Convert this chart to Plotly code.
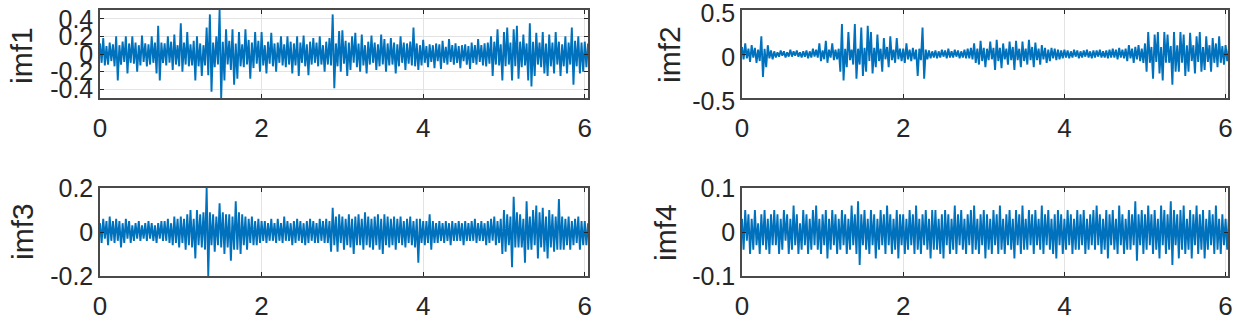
import plotly.graph_objects as go

# ---------------- data (sample step 0.02 s) -------------
t_step = 0.02

imf1 = [
    .12, -.1, .18, -.13, .09, -.12, .13, -.08, .11, -.14, .2, -.3, .1, -.12, .14, -.09, .2, -.22, .12, -.1,
    .2, -.11, .13, -.2, .1, -.13, .21, -.09, .12, -.14, .11, -.12, .2, -.1, .13, -.22, .32, -.3, .13, -.1,
    .12, -.13, .2, -.1, .14, -.18, .22, -.12, .1, -.14, .35, -.2, .13, -.12, .25, -.14, .11, -.13, .15, -.3,
    .2, -.14, .12, -.25, .1, -.13, .3, -.24, .45, -.43, .13, -.15, .2, -.12, .5, -.5, .14, -.3, .28, -.12,
    .15, -.18, .28, -.35, .12, -.28, .25, -.14, .11, -.15, .28, -.12, .16, -.28, .13, -.16, .25, -.11, .15, -.2,
    .25, -.13, .1, -.22, .14, -.11, .24, -.14, .12, -.2, .13, -.1, .2, -.13, .11, -.15, .2, -.12, .14, -.22,
    .12, -.13, .2, -.25, .13, -.1, .21, -.14, .11, -.24, .14, -.12, .18, -.1, .13, -.14, .2, -.12, .1, -.2,
    .14, -.12, .18, -.13, .45, -.39, .12, -.14, .26, -.2, .27, -.11, .15, -.25, .13, -.18, .2, -.1, .24, -.15,
    .12, -.2, .22, -.13, .1, -.22, .14, -.12, .21, -.1, .13, -.18, .11, -.14, .22, -.12, .17, -.2, .12, -.13,
    .18, -.12, .13, -.22, .11, -.14, .2, -.1, .13, -.18, .12, -.11, .14, -.13, .3, -.14, .12, -.18, .1, -.13,
    .16, -.1, .09, -.15, .11, -.09, .1, -.16, .12, -.08, .11, -.17, .15, -.1, .08, -.12, .17, -.09, .1, -.12,
    .12, -.1, .09, -.16, .1, -.08, .11, -.12, .09, -.17, .13, -.1, .1, -.12, .17, -.09, .1, -.13, .12, -.14,
    .13, -.11, .2, -.25, .14, -.12, .28, -.13, .11, -.3, .25, -.14, .3, -.12, .13, -.3, .28, -.14, .32, -.28,
    .14, -.15, .22, -.13, .12, -.3, .35, -.37, .14, -.25, .24, -.12, .13, -.15, .25, -.22, .12, -.25, .22, -.14,
    .13, -.22, .25, -.12, .14, -.25, .11, -.14, .2, -.22, .13, -.12, .3, -.35, .15, -.14, .2, -.22, .13, -.2,
    .14, -.15, .12,
]

imf2 = [
    .08, -.06, .12, -.05, .06, -.09, .1, -.04, .07, -.1, .05, -.08, .2, -.26, .06, -.15, .1, -.05, .04, -.06,
    .03, -.04, .02, -.03, .04, -.02, .03, -.04, .02, -.03, .05, -.03, .03, -.02, .04, -.03, .02, -.04, .03, -.03,
    .04, -.05, .03, -.04, .06, -.03, .05, -.04, .12, -.08, .04, -.06, .15, -.1, .05, -.04, .12, -.07, .05, -.06,
    .06, -.2, .34, -.3, .06, -.15, .25, -.07, .05, -.12, .34, -.28, .06, -.12, .3, -.25, .07, -.2, .32, -.08,
    .25, -.22, .07, -.15, .22, -.08, .06, -.2, .18, -.06, .08, -.15, .2, -.07, .05, -.1, .18, -.06, .06, -.08,
    .06, -.1, .12, -.06, .05, -.08, .07, -.06, .05, -.25, .06, -.07, .3, -.28, .05, -.06, .04, -.05, .03, -.04,
    .04, -.05, .03, -.04, .05, -.03, .04, -.05, .06, -.04, .03, -.04, .05, -.03, .04, -.05, .03, -.04, .05, -.05,
    .06, -.05, .07, -.06, .12, -.1, .06, -.12, .15, -.08, .07, -.15, .06, -.07, .14, -.06, .07, -.18, .16, -.08,
    .07, -.16, .12, -.06, .06, -.12, .14, -.07, .08, -.18, .15, -.07, .06, -.15, .14, -.08, .06, -.12, .16, -.07,
    .08, -.15, .13, -.07, .06, -.12, .1, -.06, .07, -.1, .05, -.08, .07, -.05, .06, -.07, .05, -.06, .04, -.05,
    .05, -.04, .04, -.05, .03, -.04, .05, -.03, .04, -.05, .03, -.04, .04, -.03, .05, -.04, .03, -.05, .04, -.04,
    .04, -.03, .05, -.04, .03, -.04, .04, -.05, .05, -.04, .06, -.04, .05, -.06, .07, -.04, .05, -.05, .06, -.08,
    .1, -.05, .06, -.1, .08, -.06, .1, -.08, .06, -.1, .12, -.2, .25, -.1, .08, -.28, .22, -.09, .25, -.22,
    .08, -.3, .25, -.1, .22, -.1, .09, -.35, .25, -.2, .1, -.2, .25, -.1, .22, -.25, .1, -.2, .24, -.08,
    .1, -.22, .2, -.09, .25, -.2, .08, -.18, .2, -.09, .1, -.2, .18, -.1, .12, -.15, .2, -.1, .09, -.12,
    .1, -.08, .06,
]

imf3 = [
    .04, -.05, .06, -.03, .05, -.06, .07, -.04, .05, -.05, .06, -.04, .05, -.07, .04, -.05, .06, -.03, .05, -.05,
    .03, -.04, .04, -.03, .05, -.04, .03, -.03, .04, -.04, .05, -.03, .04, -.04, .03, -.05, .04, -.03, .05, -.04,
    .05, -.04, .06, -.05, .04, -.06, .07, -.05, .06, -.07, .07, -.05, .06, -.08, .08, -.06, .1, -.07, .06, -.12,
    .1, -.06, .08, -.07, .09, -.08, .2, -.2, .09, -.06, .08, -.09, .07, -.06, .13, -.07, .09, -.1, .08, -.07,
    .08, -.13, .07, -.08, .14, -.08, .09, -.1, .08, -.06, .07, -.08, .06, -.05, .07, -.06, .05, -.06, .06, -.05,
    .05, -.04, .05, -.05, .04, -.04, .06, -.04, .04, -.05, .06, -.04, .04, -.05, .07, -.04, .05, -.04, .04, -.06,
    .05, -.05, .06, -.04, .05, -.05, .04, -.06, .05, -.05, .06, -.04, .05, -.05, .04, -.05, .06, -.04, .05, -.05,
    .06, -.05, .05, -.09, .11, -.06, .07, -.09, .08, -.05, .07, -.08, .06, -.06, .08, -.07, .06, -.1, .07, -.06,
    .08, -.06, .06, -.08, .09, -.06, .07, -.07, .06, -.08, .07, -.06, .08, -.08, .06, -.1, .08, -.06, .07, -.07,
    .06, -.06, .07, -.08, .06, -.05, .07, -.06, .05, -.07, .06, -.05, .07, -.06, .05, -.07, .06, -.14, .06, -.05,
    .05, -.06, .05, -.05, .08, -.08, .05, -.05, .04, -.05, .05, -.04, .04, -.05, .05, -.04, .04, -.06, .05, -.04,
    .04, -.04, .05, -.04, .04, -.06, .05, -.04, .04, -.04, .05, -.04, .06, -.05, .04, -.04, .05, -.04, .04, -.06,
    .05, -.05, .06, -.04, .07, -.06, .05, -.05, .06, -.1, .1, -.09, .08, -.06, .07, -.16, .16, -.07, .09, -.07,
    .08, -.07, .06, -.14, .14, -.08, .07, -.08, .1, -.06, .12, -.12, .09, -.07, .11, -.09, .07, -.12, .1, -.07,
    .08, -.09, .07, -.08, .15, -.08, .07, -.08, .06, -.06, .07, -.08, .05, -.06, .06, -.05, .07, -.08, .05, -.06,
    .05, -.06, .04,
]

imf4 = [
    .03, -.04, .05, -.02, .04, -.05, .03, -.04, .05, -.03, .02, -.05, .04, -.03, .05, -.04, .03, -.05, .04, -.03,
    .05, -.03, .04, -.05, .03, -.04, .05, -.02, .04, -.05, .03, -.04, .06, -.03, .04, -.05, .02, -.04, .05, -.03,
    .04, -.05, .03, -.04, .05, -.03, .06, -.04, .03, -.05, .04, -.03, .05, -.06, .03, -.04, .05, -.03, .04, -.05,
    .03, -.04, .05, -.03, .04, -.05, .03, -.04, .06, -.03, .04, -.05, .07, -.075, .04, -.03, .05, -.04, .03, -.05,
    .05, -.03, .04, -.06, .03, -.04, .05, -.03, .04, -.05, .06, -.03, .04, -.05, .03, -.04, .05, -.06, .04, -.03,
    .04, -.05, .03, -.04, .05, -.03, .04, -.05, .06, -.04, .03, -.05, .04, -.03, .05, -.04, .03, -.06, .05, -.04,
    .05, -.04, .03, -.05, .04, -.06, .05, -.03, .04, -.05, .03, -.04, .06, -.05, .04, -.03, .05, -.04, .03, -.05,
    .04, -.03, .05, -.05, .06, -.04, .03, -.05, .04, -.03, .05, -.06, .04, -.04, .03, -.05, .05, -.03, .04, -.05,
    .06, -.04, .03, -.05, .04, -.03, .05, -.04, .03, -.06, .05, -.03, .04, -.05, .06, -.04, .03, -.04, .05, -.03,
    .04, -.05, .05, -.03, .03, -.04, .06, -.05, .04, -.03, .05, -.04, .03, -.05, .04, -.06, .05, -.03, .04, -.05,
    .03, -.04, .05, -.03, .04, -.05, .03, -.04, .05, -.04, .04, -.03, .05, -.05, .03, -.04, .04, -.03, .05, -.04,
    .06, -.03, .04, -.05, .03, -.04, .05, -.06, .04, -.03, .05, -.04, .03, -.05, .06, -.03, .04, -.05, .03, -.04,
    .05, -.04, .04, -.03, .07, -.065, .04, -.03, .05, -.05, .04, -.04, .06, -.03, .04, -.05, .05, -.04, .03, -.06,
    .06, -.03, .05, -.05, .04, -.04, .07, -.075, .05, -.03, .04, -.06, .05, -.04, .06, -.05, .03, -.04, .05, -.06,
    .04, -.03, .06, -.05, .04, -.04, .05, -.06, .03, -.04, .05, -.03, .04, -.05, .06, -.04, .03, -.05, .04, -.03,
    .03, -.04, .03,
]

series_names = ["imf1", "imf2", "imf3", "imf4"]

x_tick_vals = [0, 2, 4, 6]
x_tick_text = ["0", "2", "4", "6"]

y_tick_vals = [
    [-0.4, -0.2, 0, 0.2, 0.4],
    [-0.5, 0, 0.5],
    [-0.2, 0, 0.2],
    [-0.1, 0, 0.1],
]
y_tick_text = [
    ["-0.4", "-0.2", "0", "0.2", "0.4"],
    ["-0.5", "0", "0.5"],
    ["-0.2", "0", "0.2"],
    ["-0.1", "0", "0.1"],
]
y_ranges = [[-0.5, 0.5], [-0.5, 0.5], [-0.2, 0.2], [-0.1, 0.1]]
x_range_max = [6.04, 6.03, 6.04, 6.03]

# ---------------- figure -------------
W, H = 1237, 322
x_domains = [[100 / W, 588 / W], [742 / W, 1228 / W], [100 / W, 588 / W], [742 / W, 1228 / W]]
y_domains = [[1 - 98 / H, 1 - 10 / H], [1 - 98 / H, 1 - 10 / H],
             [1 - 276 / H, 1 - 188 / H], [1 - 276 / H, 1 - 188 / H]]
# centre of each rotated y-axis title, in pixels from the top-left corner
title_centres = [(21, 56), (670, 55), (22, 232), (665, 233)]
ytick_shift = [0, 3, 0, 0]

FONT = "Liberation Sans, Arial, Helvetica, sans-serif"
TXT = "#262626"
LINE_COLOR = "#0072BD"

all_series = [imf1, imf2, imf3, imf4]

fig = go.Figure()
layout = dict(
    width=W, height=H,
    margin=dict(l=0, r=0, t=0, b=0, autoexpand=False),
    paper_bgcolor="white", plot_bgcolor="white",
    showlegend=False,
    font=dict(family=FONT, color=TXT),
)

annotations = []
for k, (vals, name) in enumerate(zip(all_series, series_names)):
    t = [i * t_step for i in range(len(vals))]
    suffix = "" if k == 0 else str(k + 1)
    fig.add_trace(go.Scatter(
        x=t, y=vals, mode="lines",
        line=dict(color=LINE_COLOR, width=1.9),
        xaxis="x" + suffix, yaxis="y" + suffix,
        hoverinfo="skip",
    ))
    layout["xaxis" + suffix] = dict(
        domain=x_domains[k], anchor="y" + suffix,
        range=[0, x_range_max[k]], automargin=False,
        tickvals=x_tick_vals, ticktext=x_tick_text,
        ticks="inside", ticklen=4, tickcolor="#262626", tickwidth=1,
        showline=True, linecolor="#4a4a4a", linewidth=1.5, mirror="ticks",
        showgrid=True, gridcolor="#e3e3e3", gridwidth=1,
        zeroline=False,
        tickfont=dict(size=26, family=FONT, color=TXT),
        ticklabelstandoff=6, ticklabeloverflow="allow",
    )
    layout["yaxis" + suffix] = dict(
        domain=y_domains[k], anchor="x" + suffix,
        range=y_ranges[k], automargin=False,
        tickvals=y_tick_vals[k], ticktext=y_tick_text[k],
        ticks="inside", ticklen=4, tickcolor="#262626", tickwidth=1,
        showline=True, linecolor="#4a4a4a", linewidth=1.5, mirror="ticks",
        showgrid=True, gridcolor="#e3e3e3", gridwidth=1,
        zeroline=False,
        tickfont=dict(size=25, family=FONT, color=TXT),
        ticklabelshift=ytick_shift[k], ticklabeloverflow="allow",
    )
    cx, cy = title_centres[k]
    annotations.append(dict(
        text=name, textangle=-90, showarrow=False,
        xref="paper", yref="paper", x=cx / W, y=1 - cy / H,
        xanchor="center", yanchor="middle",
        font=dict(size=30, family=FONT, color=TXT),
    ))

layout["annotations"] = annotations
fig.update_layout(**layout)
fig.write_html("out.html", config={"displayModeBar": False},
               post_script="document.body.style.margin='0';")
